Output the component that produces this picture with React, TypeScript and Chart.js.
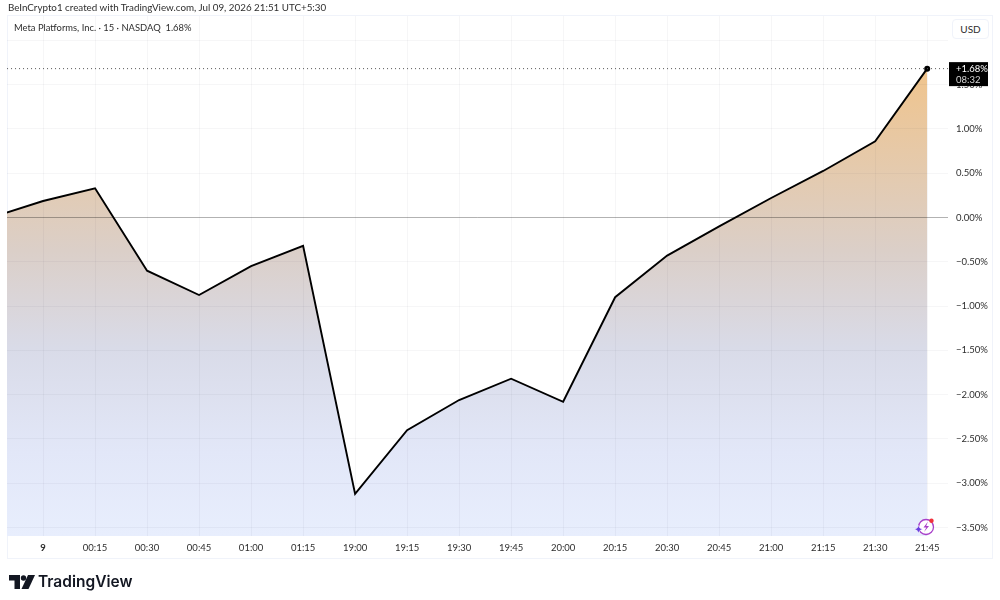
import React, { useEffect, useRef } from 'react';
import { Chart, registerables } from 'chart.js';

Chart.register(...registerables);

const timeLabels = ['9', '00:15', '00:30', '00:45', '01:00', '01:15', '19:00', '19:15', '19:30', '19:45', '20:00', '20:15', '20:30', '20:45', '21:00', '21:15', '21:30', '21:45'];
// first value is the bar before "9", it sits just off the left edge
const previousClose = [0.0];
const changePct = [0.186, 0.33, -0.6, -0.875, -0.55, -0.32, -3.12, -2.4, -2.06, -1.82, -2.08, -0.9, -0.43, -0.1, 0.22, 0.525, 0.86, 1.68];
const yTicks = [-3.5, -3, -2.5, -2, -1.5, -1, -0.5, 0, 0.5, 1, 1.5, 2];
const lastLabel = '+1.68%';
const countdown = '08:32';

const FONT = 'Lato, sans-serif';

const fmtPct = (v: number) => (v < 0 ? '\u2212' : '') + Math.abs(v).toFixed(2) + '%';

// frame, last price tag
const overlayPlugin = {
  id: 'overlay',
  beforeDraw(chart: any) {
    const { ctx } = chart;
    ctx.save();
    ctx.strokeStyle = '#f0f3fa';
    ctx.lineWidth = 1;
    ctx.strokeRect(7.5, 15.5, 985, 543);
    ctx.restore();
  },
  afterDraw(chart: any) {
    const { ctx, scales } = chart;
    const y = scales.y.getPixelForValue(changePct[changePct.length - 1]);
    ctx.save();
    ctx.fillStyle = '#000';
    ctx.fillRect(949, y - 6.5, 39, 24);
    ctx.font = `9.5px ${FONT}`;
    ctx.fillStyle = '#fff';
    ctx.textAlign = 'left';
    ctx.textBaseline = 'middle';
    ctx.fillText(lastLabel, 956, y + 0.5);
    ctx.fillStyle = '#d6d6d6';
    ctx.fillText(countdown, 956, y + 11.5);
    ctx.restore();
  },
};

const App: React.FC = () => {
  const canvasRef = useRef<HTMLCanvasElement>(null);

  useEffect(() => {
    if (!canvasRef.current) return;
    const linePoints = [{ x: -1, y: previousClose[0] }, ...changePct.map((v, i) => ({ x: i, y: v }))];
    const last = changePct[changePct.length - 1];

    const chart = new Chart(canvasRef.current, {
      type: 'line',
      data: {
        datasets: [
          {
            data: [{ x: -1, y: last }, { x: 18, y: last }],
            borderColor: '#555',
            borderWidth: 1,
            borderDash: [1, 3],
            pointRadius: 0,
            fill: false,
          },
          {
            data: linePoints,
            borderColor: '#000',
            borderWidth: 1.9,
            tension: 0,
            fill: 'start',
            backgroundColor: (c: any) => {
              const area = c.chart.chartArea;
              if (!area) return 'transparent';
              const g = c.chart.ctx.createLinearGradient(0, 68, 0, area.bottom);
              g.addColorStop(0, '#f0c48c');
              g.addColorStop(0.39, '#dbcfc8');
              g.addColorStop(0.6, '#d9dbe8');
              g.addColorStop(0.82, '#e2e7f8');
              g.addColorStop(1, '#e8eefd');
              return g;
            },
            pointRadius: (c: any) => (c.dataIndex === changePct.length ? 3 : 0),
            pointBackgroundColor: '#000',
            pointBorderWidth: 0,
          },
        ],
      },
      options: {
        responsive: false,
        animation: false,
        layout: { padding: { left: 7, top: 16, right: 8, bottom: 42 } },
        plugins: { legend: { display: false }, tooltip: { enabled: false } },
        scales: {
          x: {
            type: 'linear',
            min: -0.693,
            max: 17.4,
            afterBuildTicks: (axis: any) => {
              axis.ticks = timeLabels.map((_, i) => ({ value: i }));
            },
            afterFit: (axis: any) => {
              axis.height = 22;
            },
            border: { display: false },
            grid: { color: 'rgba(20,30,60,0.04)', drawTicks: false, z: 1 },
            ticks: {
              autoSkip: false,
              maxRotation: 0,
              padding: 6,
              color: '#2e2e2e',
              font: (c: any) => ({ family: FONT, size: 9.5, weight: c.index === 0 ? 'bold' : 'normal' }),
              callback: (v: any) => timeLabels[v],
            },
          },
          y: {
            position: 'right',
            min: -3.595,
            max: 2.274,
            afterBuildTicks: (axis: any) => {
              axis.ticks = yTicks.map((value) => ({ value }));
            },
            afterFit: (axis: any) => {
              axis.width = 44;
            },
            border: { display: false },
            grid: {
              color: (c: any) => (c.tick && c.tick.value === 0 ? 'rgba(0,0,0,0.3)' : 'rgba(20,30,60,0.04)'),
              drawTicks: false,
              z: 1,
            },
            ticks: {
              crossAlign: 'near',
              padding: 8,
              color: '#2e2e2e',
              font: { family: FONT, size: 9.5 },
              callback: (v: any) => fmtPct(v),
            },
          },
        },
      },
      plugins: [overlayPlugin],
    } as any);

    return () => chart.destroy();
  }, []);

  return (
    <div style={{ position: 'fixed', left: 0, top: 0, width: 1000, height: 600, background: '#fff', overflow: 'hidden', fontFamily: FONT, color: '#2e2e2e' }}>
      <canvas ref={canvasRef} width={1000} height={600} style={{ display: 'block' }} />
      <div style={{ position: 'absolute', left: 8, top: 1, fontSize: 9.8 }}>BeInCrypto1 created with TradingView.com, Jul 09, 2026 21:51 UTC+5:30</div>
      <div style={{ position: 'absolute', left: 14, top: 22, fontSize: 9.4 }}>Meta Platforms, Inc. · 15 · NASDAQ&nbsp; 1.68%</div>
      <div style={{ position: 'absolute', left: 950, top: 17, width: 41, height: 26, background: '#fff' }} />
      <div style={{ position: 'absolute', left: 952, top: 19, width: 37, height: 20, boxSizing: 'border-box', background: '#fff', border: '1px solid #f0f3fa', borderRadius: 4, fontSize: 10, textAlign: 'center', lineHeight: '18px' }}>USD</div>
      <svg style={{ position: 'absolute', left: 914, top: 517 }} width={22} height={20} viewBox="0 0 22 20">
        <circle cx="12" cy="10" r="7.5" fill="#fff" stroke="#a83fc9" strokeWidth="1.3" />
        <path d="M14 4.5 L9.5 10.5 L12.3 10.5 L10 15 L15 9 L12.2 9 Z" fill="#a83fc9" />
        <path d="M4.5 8.5 L5.8 11 L8.5 12.3 L5.8 13.6 L4.5 16 L3.2 13.6 L0.5 12.3 L3.2 11 Z" fill="#6a3fe0" stroke="#fff" strokeWidth="0.5" />
        <circle cx="17.5" cy="3.8" r="2.2" fill="#f0323c" />
      </svg>
      <svg style={{ position: 'absolute', left: 9, top: 575 }} width={26} height={14} viewBox="0 0 26 14">
        <path d="M0 0 H11 V14 H5.5 V5.5 H0 Z" fill="#131722" />
        <circle cx="14.5" cy="3" r="2.7" fill="#131722" />
        <path d="M19 0 H26 L19.5 14 H12.5 Z" fill="#131722" />
      </svg>
      <div style={{ position: 'absolute', left: 38, top: 571, fontFamily: 'Inter, sans-serif', fontSize: 15.5, fontWeight: 600, color: '#131722', lineHeight: '22px' }}>TradingView</div>
    </div>
  );
};

export default App;
